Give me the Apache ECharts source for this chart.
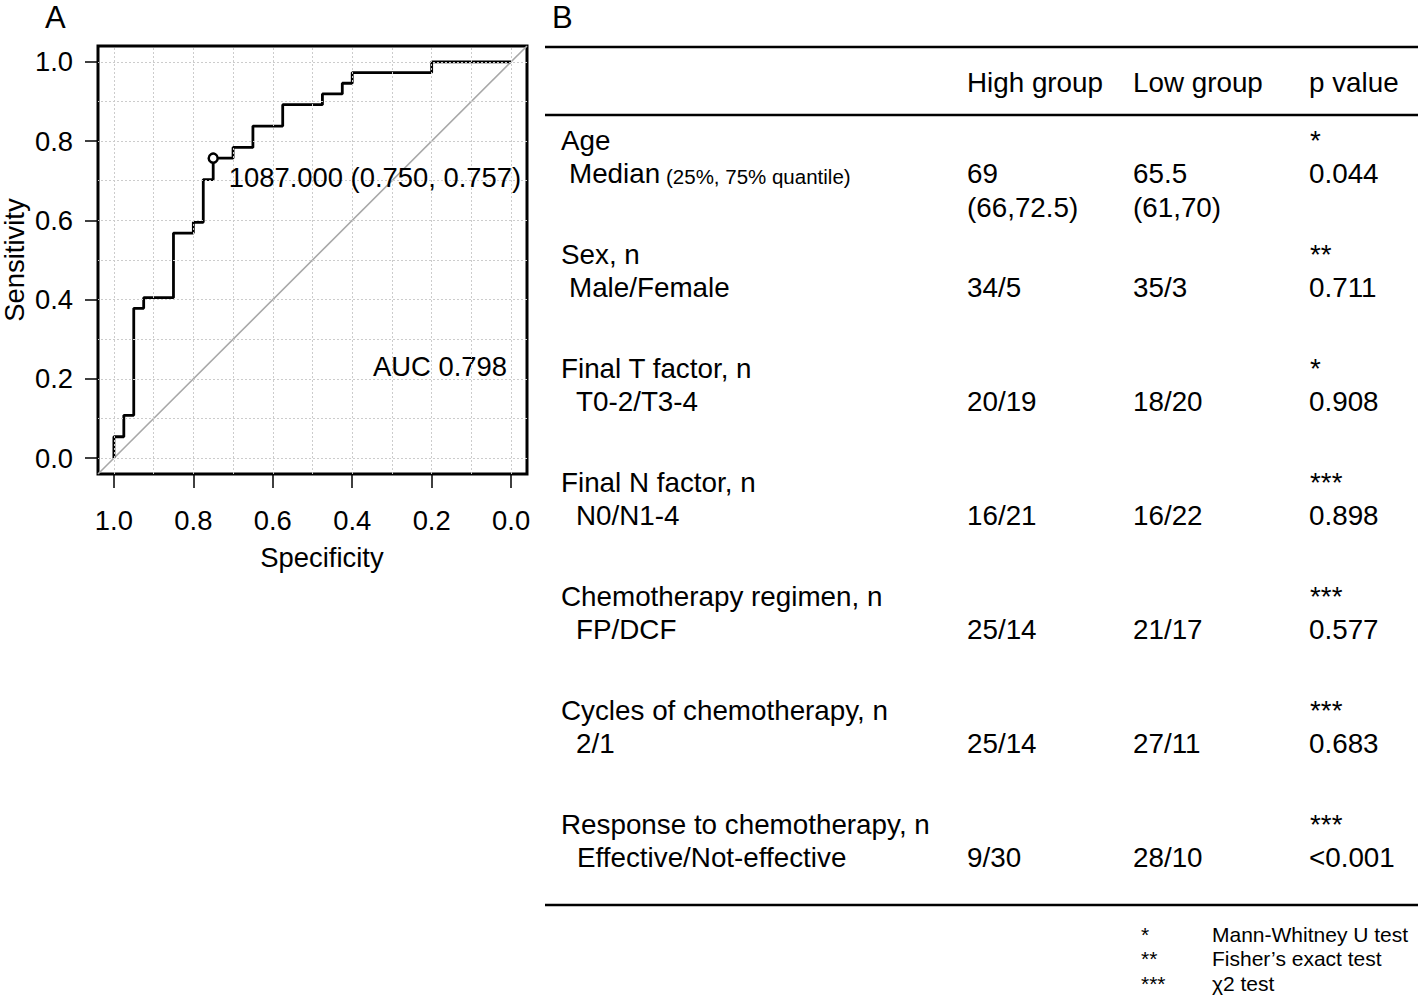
<!DOCTYPE html>
<html>
<head>
<meta charset="utf-8">
<script src="https://cdn.jsdelivr.net/npm/echarts@6/dist/echarts.min.js"></script>
<style>
  html, body { margin: 0; padding: 0; background: #fff; }
  #chart { width: 1418px; height: 995px; }
</style>
</head>
<body>
<div id="chart"></div>
<script>
// ---------- Panel A: ROC curve data ----------
const rocSpecificity = [1.000, 1.000, 0.975, 0.950, 0.925, 0.850, 0.800, 0.775, 0.750, 0.700, 0.650, 0.575, 0.475, 0.425, 0.400, 0.200, 0.000];
const rocSensitivity = [0.000, 0.054, 0.108, 0.378, 0.405, 0.568, 0.595, 0.703, 0.757, 0.784, 0.838, 0.892, 0.919, 0.946, 0.973, 1.000, 1.000];
const chanceSpecificity = [1.04, -0.04];
const chanceSensitivity = [-0.04, 1.04];
const thresholdValue = 1087.000;
const thresholdSpecificity = 0.750;
const thresholdSensitivity = 0.757;
const aucValue = 0.798;
const axisTickValues = [0, 0.2, 0.4, 0.6, 0.8, 1.0];
const gridLineValues = [0, 0.1, 0.2, 0.3, 0.4, 0.5, 0.6, 0.7, 0.8, 0.9, 1.0];

// ---------- Panel B: table data ----------
const tableHeaders = ['High group', 'Low group', 'p value'];
const rowTitles = ['Age', 'Sex, n', 'Final T factor, n', 'Final N factor, n', 'Chemotherapy regimen, n', 'Cycles of chemotherapy, n', 'Response to chemotherapy, n'];
const rowSubtitles = ['Median', 'Male/Female', 'T0-2/T3-4', 'N0/N1-4', 'FP/DCF', '2/1', 'Effective/Not-effective'];
const rowSubtitleNotes = ['(25%, 75% quantile)', '', '', '', '', '', ''];
const highGroup = ['69', '34/5', '20/19', '16/21', '25/14', '25/14', '9/30'];
const highGroupExtra = ['(66,72.5)', '', '', '', '', '', ''];
const lowGroup = ['65.5', '35/3', '18/20', '16/22', '21/17', '27/11', '28/10'];
const lowGroupExtra = ['(61,70)', '', '', '', '', '', ''];
const pValues = ['0.044', '0.711', '0.908', '0.898', '0.577', '0.683', '<0.001'];
const testMarks = ['*', '**', '*', '***', '***', '***', '***'];
const footnoteMarks = ['*', '**', '***'];
const footnoteTests = ['Mann-Whitney U test', 'Fisher\u2019s exact test', '\u03c72 test'];

// ---------- layout / style ----------
const FONT = '"Liberation Sans", Arial, Helvetica, sans-serif';
const ROC_FS = 27.4;
const TAB_FS = 27.8;
const subIndent = [8, 8, 15, 15, 15, 15, 16];

function txt(text, x, y, size, align, vAlign, extra) {
  const o = {
    type: 'text', x: x, y: y, silent: true,
    style: {
      text: text, fill: '#000', fontSize: size, fontFamily: FONT,
      align: align || 'left', textAlign: align || 'left',
      verticalAlign: vAlign || 'middle', textVerticalAlign: vAlign || 'middle'
    }
  };
  if (extra) Object.assign(o, extra);
  return o;
}
function hline(x1, x2, y, w) {
  return { type: 'line', silent: true, shape: { x1: x1, y1: y, x2: x2, y2: y }, style: { stroke: '#000', lineWidth: w } };
}

const rocData = rocSpecificity.map((s, i) => [s, rocSensitivity[i]]);
const chanceData = chanceSpecificity.map((s, i) => [s, chanceSensitivity[i]]);

const gridMarks = [];
gridLineValues.forEach(v => { gridMarks.push({ xAxis: v }); gridMarks.push({ yAxis: v }); });

// graphic elements
const g = [];
g.push(txt('A', 45, 17, 31, 'left', 'middle'));
g.push(txt('B', 552, 17, 31, 'left', 'middle'));
g.push(txt('Sensitivity', 14.5, 260, ROC_FS, 'center', 'middle', { rotation: Math.PI / 2 }));
g.push(txt('Specificity', 322, 557, ROC_FS, 'center', 'middle'));
g.push(txt('AUC ' + aucValue.toFixed(3), 507, 366, ROC_FS, 'right', 'middle'));

// table rules
const tabLeft = 545, tabRight = 1418;
g.push(hline(tabLeft, tabRight, 47, 2.6));
g.push(hline(tabLeft, tabRight, 115, 2.4));
g.push(hline(tabLeft, tabRight, 905, 2.6));

const colX = [967, 1133, 1309];
tableHeaders.forEach((h, i) => g.push(txt(h, colX[i], 82, TAB_FS)));

const rowTop = 140, rowStep = 114, lineStep = 33.7;
rowTitles.forEach((t, i) => {
  const y1 = rowTop + i * rowStep;
  const y2 = y1 + lineStep;
  const y3 = y2 + lineStep;
  g.push(txt(t, 561, y1, TAB_FS));
  g.push(txt(rowSubtitles[i], 561 + subIndent[i], y2, TAB_FS));
  if (rowSubtitleNotes[i]) g.push(txt(rowSubtitleNotes[i], 666, y2 + 2.5, 20.5));
  g.push(txt(highGroup[i], colX[0], y2, TAB_FS));
  if (highGroupExtra[i]) g.push(txt(highGroupExtra[i], colX[0], y3, TAB_FS));
  g.push(txt(lowGroup[i], colX[1], y2, TAB_FS));
  if (lowGroupExtra[i]) g.push(txt(lowGroupExtra[i], colX[1], y3, TAB_FS));
  g.push(txt(testMarks[i], colX[2] + 1, y1, TAB_FS));
  g.push(txt(pValues[i], colX[2], y2, TAB_FS));
});

footnoteMarks.forEach((m, i) => {
  const y = 934 + i * 24.5;
  g.push(txt(m, 1141, y, 21));
  g.push(txt(footnoteTests[i], 1212, y, 21));
});

const chart = echarts.init(document.getElementById('chart'), null, { renderer: 'svg', width: 1418, height: 995 });
chart.setOption({
  backgroundColor: '#fff',
  animation: false,
  textStyle: { fontFamily: FONT },
  grid: {
    show: true, left: 98, top: 46, width: 429, height: 428,
    borderColor: '#000', borderWidth: 3, backgroundColor: 'rgba(0,0,0,0)', containLabel: false
  },
  xAxis: {
    type: 'value', inverse: true, min: -0.04, max: 1.04, position: 'bottom',
    axisLine: { show: false, onZero: false },
    splitLine: { show: false },
    axisTick: { show: true, customValues: axisTickValues, length: 14, lineStyle: { color: '#000', width: 1.5 } },
    axisLabel: { show: true, customValues: axisTickValues, formatter: v => v.toFixed(1), fontSize: ROC_FS, color: '#000', margin: 33, fontFamily: FONT }
  },
  yAxis: {
    type: 'value', min: -0.04, max: 1.04, position: 'left',
    axisLine: { show: false, onZero: false },
    splitLine: { show: false },
    axisTick: { show: true, customValues: axisTickValues, length: 13, lineStyle: { color: '#000', width: 1.5 } },
    axisLabel: { show: true, customValues: axisTickValues, formatter: v => v.toFixed(1), fontSize: ROC_FS, color: '#000', margin: 25, fontFamily: FONT }
  },
  series: [
    {
      type: 'line', name: 'grid', data: [], silent: true, z: 1,
      markLine: {
        silent: true, symbol: ['none', 'none'], label: { show: false }, animation: false,
        lineStyle: { color: '#cccccc', type: [2, 2], width: 1 },
        emphasis: { disabled: true },
        data: gridMarks
      }
    },
    {
      type: 'line', name: 'chance', data: chanceData, showSymbol: false, silent: true, z: 2,
      lineStyle: { color: '#a8a8a8', width: 1.6 }
    },
    {
      type: 'line', name: 'ROC', data: rocData, step: 'end', showSymbol: false, silent: true, z: 3,
      lineStyle: { color: '#000', width: 2.8 }
    },
    {
      type: 'scatter', name: 'threshold', data: [[thresholdSpecificity, thresholdSensitivity]], silent: true, z: 4,
      symbol: 'circle', symbolSize: 9,
      itemStyle: { color: '#fff', borderColor: '#000', borderWidth: 2.5, opacity: 1 },
      label: { show: false }
    }
  ],
  graphic: { elements: g }
});

// threshold label positioned through the chart's own scales
const tp = chart.convertToPixel({ gridIndex: 0 }, [thresholdSpecificity, thresholdSensitivity]);
const thrText = thresholdValue.toFixed(3) + ' (' + thresholdSpecificity.toFixed(3) + ', ' + thresholdSensitivity.toFixed(3) + ')';
g.push(txt(thrText, tp[0] + 15.5, tp[1] + 19.5, ROC_FS, 'left', 'middle', { z: 100 }));
chart.setOption({ graphic: { elements: g } });
</script>
</body>
</html>
